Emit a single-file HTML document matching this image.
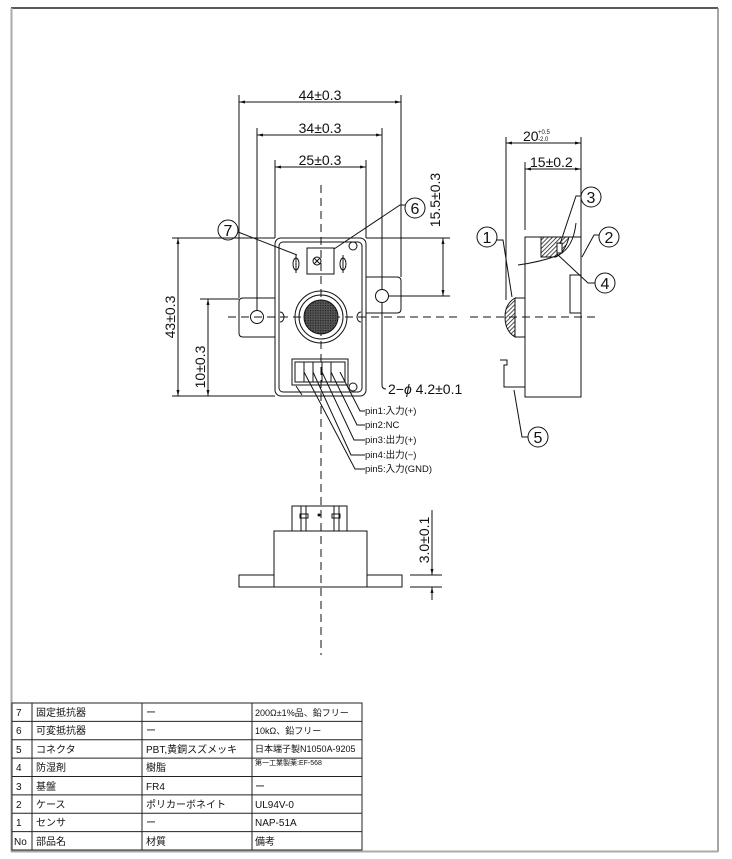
<!DOCTYPE html>
<html><head><meta charset="utf-8"><style>
html,body{margin:0;padding:0;background:#fff}
svg{display:block}
text{font-family:"Liberation Sans","Noto Sans CJK JP",sans-serif;fill:#111}
</style></head><body>
<svg width="732" height="859" viewBox="0 0 732 859" xmlns="http://www.w3.org/2000/svg">
<defs>
<pattern id="h" width="3" height="3" patternUnits="userSpaceOnUse" patternTransform="rotate(45)"><rect width="3" height="3" fill="#fff"/><line x1="0" y1="0" x2="0" y2="3" stroke="#222" stroke-width="1.6"/></pattern>
<pattern id="m" width="2.5" height="2.5" patternUnits="userSpaceOnUse"><rect width="2.5" height="2.5" fill="#555"/><rect width="1.2" height="1.2" fill="#222"/></pattern>
<marker id="a" markerWidth="6" markerHeight="6" refX="6" refY="3" orient="auto"><path d="M0,1.5 L6,3 L0,4.5z" fill="#111"/></marker>
<marker id="b" markerWidth="6" markerHeight="6" refX="0" refY="3" orient="auto"><path d="M6,1.5 L0,3 L6,4.5z" fill="#111"/></marker>
</defs>
<line x1="11" y1="8" x2="718" y2="8" stroke="#222" stroke-width="1.5"/>
<line x1="11.5" y1="8" x2="11.5" y2="852" stroke="#aaa" stroke-width="2"/>
<line x1="718" y1="8" x2="718" y2="852" stroke="#888" stroke-width="1.5"/>
<line x1="11" y1="851.5" x2="718" y2="851.5" stroke="#aaa" stroke-width="2"/>

<g stroke="#111" stroke-width="1" fill="none">
<line x1="228" y1="317" x2="460" y2="317" stroke-dasharray="8,5"/>
<line x1="321" y1="185" x2="321" y2="655" stroke-dasharray="8,5"/>
<path d="M275,298 H243 Q239,298 239,302 V333 Q239,337 243,337 H275"/>
<path d="M366,277 H397 Q401,277 401,281 V309 Q401,313 397,313 H366"/>
<circle cx="257" cy="317" r="6.5"/>
<circle cx="382" cy="296" r="6.5"/>
<rect x="275" y="238" width="91" height="158" rx="6"/>
<rect x="279" y="242" width="83" height="150" rx="4"/>
<circle cx="353" cy="246" r="4"/>
<circle cx="353" cy="387" r="4"/>
<path d="M280,312 a4,5 0 0 1 0,10"/>
<path d="M361,312 a4,5 0 0 0 0,10"/>
<rect x="307" y="248" width="27" height="26"/>
<circle cx="317" cy="261" r="4"/>
<path d="M314,258 l6,6 M320,258 l-6,6"/>
<ellipse cx="296" cy="264" rx="3" ry="6"/>
<line x1="296" y1="255" x2="296" y2="273"/>
<ellipse cx="343" cy="264" rx="3" ry="6"/>
<line x1="343" y1="255" x2="343" y2="273"/>
<circle cx="321" cy="317" r="26"/>
<circle cx="321" cy="317" r="22"/>
<circle cx="321" cy="317" r="17" fill="url(#m)"/>
<rect x="292" y="359" width="56" height="26"/>
<rect x="295" y="362" width="50" height="20"/>
<line x1="304" y1="362" x2="304" y2="382"/><line x1="313" y1="362" x2="313" y2="382"/>
<line x1="322" y1="362" x2="322" y2="382"/><line x1="331" y1="362" x2="331" y2="382"/>
<path d="M340,372 L360,411 H365"/>
<path d="M331,372 L357,425 H365"/>
<path d="M322,372 L354,440 H365"/>
<path d="M313,372 L351,455 H365"/>
<path d="M304,372 L355,469 H365"/>
<line x1="296" y1="386" x2="302" y2="395"/>
<line x1="239" y1="95" x2="239" y2="298"/><line x1="401" y1="95" x2="401" y2="277"/>
<line x1="239" y1="102" x2="401" y2="102" marker-start="url(#b)" marker-end="url(#a)"/>
<line x1="257" y1="128" x2="257" y2="310"/><line x1="382" y1="128" x2="382" y2="289"/>
<line x1="257" y1="135" x2="382" y2="135" marker-start="url(#b)" marker-end="url(#a)"/>
<line x1="275" y1="160" x2="275" y2="238"/><line x1="366" y1="160" x2="366" y2="238"/>
<line x1="275" y1="167" x2="366" y2="167" marker-start="url(#b)" marker-end="url(#a)"/>
<line x1="366" y1="238" x2="450" y2="238"/><line x1="388" y1="296" x2="450" y2="296"/>
<line x1="443" y1="238" x2="443" y2="296" marker-start="url(#b)" marker-end="url(#a)"/>
<line x1="172" y1="238" x2="275" y2="238"/><line x1="172" y1="396" x2="275" y2="396"/>
<line x1="178" y1="238" x2="178" y2="396" marker-start="url(#b)" marker-end="url(#a)"/>
<line x1="200" y1="299" x2="239" y2="299"/>
<line x1="208" y1="299" x2="208" y2="396" marker-start="url(#b)" marker-end="url(#a)"/>
<circle cx="228" cy="230" r="10"/><path d="M238,232 L297,255"/>
<circle cx="415" cy="208" r="10"/><path d="M405,205 H400 L334,249"/>
<path d="M382,302 V385 Q382,389 386,389"/>
<rect x="525" y="237" width="56" height="160"/>
<rect x="570" y="275" width="11" height="38"/>
<path d="M541,237 H569 Q565,252 556,257 H541 Z" fill="url(#h)"/>
<rect x="557" y="243" width="5" height="10" fill="#fff"/>
<path d="M576,223 Q573,250 556,256 Q540,262 518,265"/>
<path d="M515,298 H525 M515,337 H525 M515,298 V337"/>
<path d="M515,298 Q505,304 505,317 Q505,331 515,337 Z" fill="url(#h)"/>
<path d="M500,360 H507 V365 H504 V387 H525"/>
<line x1="470" y1="317" x2="595" y2="317" stroke-dasharray="8,5"/>
<line x1="506" y1="137" x2="506" y2="300"/><line x1="581" y1="137" x2="581" y2="237"/>
<line x1="506" y1="143" x2="581" y2="143" marker-start="url(#b)" marker-end="url(#a)"/>
<line x1="525" y1="162" x2="525" y2="230"/>
<line x1="525" y1="169" x2="581" y2="169" marker-start="url(#b)" marker-end="url(#a)"/>
<circle cx="487" cy="237" r="10"/><path d="M496,240 H503 L512,297"/>
<circle cx="609" cy="237" r="10"/><path d="M599,235 H594 L582,257"/>
<circle cx="591" cy="197" r="10"/><path d="M581,196 H576 L560,244"/>
<circle cx="605" cy="283" r="10"/><path d="M595,283 H588 L557,254"/>
<circle cx="538" cy="437" r="10"/><path d="M528,437 H522 L514,390"/>
<rect x="274" y="531" width="93" height="56"/>
<rect x="239" y="575" width="35" height="12"/><rect x="367" y="575" width="35" height="12"/>
<rect x="292" y="506" width="55" height="25"/>
<line x1="301" y1="506" x2="301" y2="531"/><line x1="306" y1="506" x2="306" y2="531"/>
<line x1="334" y1="506" x2="334" y2="531"/><line x1="339" y1="506" x2="339" y2="531"/>
<rect x="300" y="514" width="8" height="4"/><rect x="332" y="514" width="8" height="4"/>
<line x1="410" y1="575" x2="442" y2="575"/><line x1="410" y1="587" x2="442" y2="587"/>
<line x1="432" y1="510" x2="432" y2="575" marker-end="url(#a)"/>
<line x1="432" y1="600" x2="432" y2="587" marker-end="url(#a)"/>
</g>
<circle cx="319" cy="515" r="1.5" fill="#111"/>
<g font-size="14" fill="#333">
<text x="320" y="100" text-anchor="middle">44±0.3</text>
<text x="320" y="133" text-anchor="middle">34±0.3</text>
<text x="320" y="165" text-anchor="middle">25±0.3</text>
<text transform="translate(440,200) rotate(-90)" text-anchor="middle">15.5±0.3</text>
<text transform="translate(175,317) rotate(-90)" text-anchor="middle">43±0.3</text>
<text transform="translate(205,367) rotate(-90)" text-anchor="middle">10±0.3</text>
<text transform="translate(429,540) rotate(-90)" text-anchor="middle">3.0±0.1</text>
<text x="523" y="141">20</text>
<text x="538" y="134" font-size="6">+0.5</text>
<text x="538" y="141" font-size="6">-2.0</text>
<text x="530" y="167">15±0.2</text>
</g>
<g font-size="16" text-anchor="middle">
<text x="228" y="236">7</text><text x="415" y="214">6</text>
<text x="487" y="243">1</text><text x="609" y="243">2</text>
<text x="591" y="203">3</text><text x="605" y="289">4</text><text x="538" y="443">5</text>
</g>
<text x="388" y="394" font-size="14">2−<tspan font-style="italic">ϕ</tspan> 4.2±0.1</text>
<g font-size="9.5">
<text x="365" y="414">pin1:入力(+)</text>
<text x="365" y="428">pin2:NC</text>
<text x="365" y="443">pin3:出力(+)</text>
<text x="365" y="458">pin4:出力(−)</text>
<text x="365" y="472">pin5:入力(GND)</text>
</g>
<g stroke="#222" stroke-width="1">
<rect x="12" y="703" width="350" height="147" fill="none"/>
<line x1="32" y1="703" x2="32" y2="850"/><line x1="142" y1="703" x2="142" y2="850"/><line x1="252" y1="703" x2="252" y2="850"/>
<line x1="12" y1="721.4" x2="362" y2="721.4"/><line x1="12" y1="739.8" x2="362" y2="739.8"/>
<line x1="12" y1="758.1" x2="362" y2="758.1"/><line x1="12" y1="776.5" x2="362" y2="776.5"/>
<line x1="12" y1="794.9" x2="362" y2="794.9"/><line x1="12" y1="813.3" x2="362" y2="813.3"/>
<line x1="12" y1="831.6" x2="362" y2="831.6"/>
</g>
<g font-size="10">
<text x="16" y="716">7</text><text x="36" y="716">固定抵抗器</text><text x="146" y="716">ー</text><text x="255" y="716" font-size="9">200Ω±1%品、鉛フリー</text>
<text x="16" y="734">6</text><text x="36" y="734">可変抵抗器</text><text x="146" y="734">ー</text><text x="255" y="734" font-size="9">10kΩ、鉛フリー</text>
<text x="16" y="753">5</text><text x="36" y="753">コネクタ</text><text x="146" y="753">PBT,黄銅スズメッキ</text><text x="255" y="752" font-size="9">日本端子製N1050A-9205</text>
<text x="16" y="771">4</text><text x="36" y="771">防湿剤</text><text x="146" y="771">樹脂</text><text x="255" y="765" font-size="7">第一工業製薬:EF-568</text>
<text x="16" y="790">3</text><text x="36" y="790">基盤</text><text x="146" y="790">FR4</text><text x="255" y="790">ー</text>
<text x="16" y="808">2</text><text x="36" y="808">ケース</text><text x="146" y="808">ポリカーボネイト</text><text x="255" y="808">UL94V-0</text>
<text x="16" y="826">1</text><text x="36" y="826">センサ</text><text x="146" y="826">ー</text><text x="255" y="826">NAP-51A</text>
<text x="14" y="845">No</text><text x="36" y="845">部品名</text><text x="146" y="845">材質</text><text x="255" y="845">備考</text>
</g>
</svg>
</body></html>
